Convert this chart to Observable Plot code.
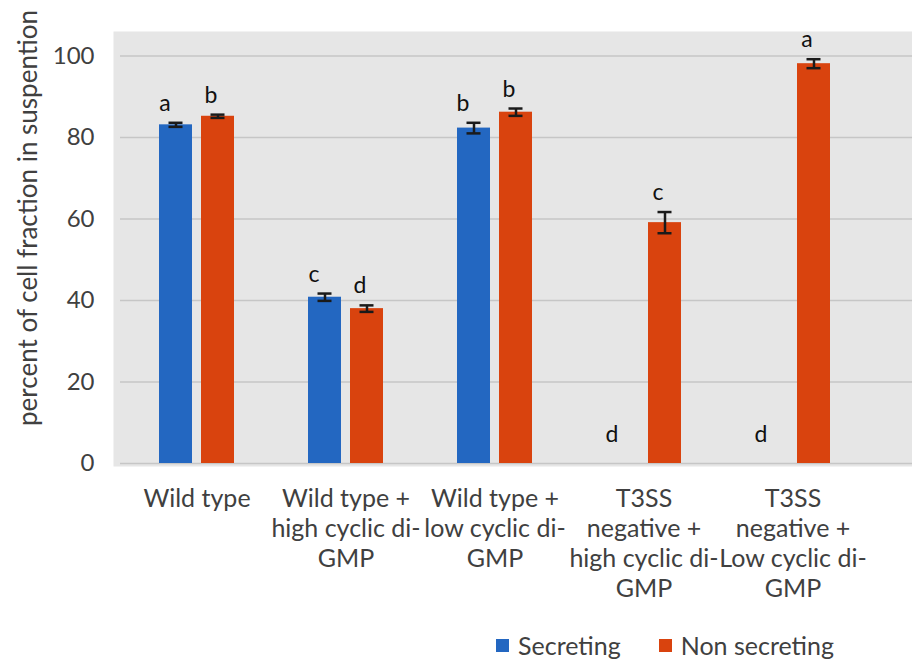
<!DOCTYPE html>
<html>
<head>
<meta charset="utf-8">
<script src="https://cdn.jsdelivr.net/npm/d3@7"></script>
<script src="https://cdn.jsdelivr.net/npm/@observablehq/plot@0.6"></script>
<style>
  body { margin: 0; background: #fff; font-family: Lato, "Liberation Sans", sans-serif; }
  #wrap { position: relative; width: 912px; height: 659px; overflow: hidden; }
  #legend { position: absolute; left: 496px; top: 630px; height: 30px; display: flex; align-items: center; font-size: 25px; color: #404040; font-family: Lato, sans-serif; }
  .item { display: flex; align-items: center; margin-right: 38px; }
  .sw { width: 13px; height: 13px; margin-right: 9px; }
  #ytitle { position: absolute; left: 27px; top: 218px; transform: translate(-50%, -50%) rotate(-90deg); white-space: nowrap; font-size: 26px; line-height: 30px; color: #404040; font-family: Lato, sans-serif; }
</style>
</head>
<body>
<div id="wrap"><div id="chart"></div><div id="ytitle"></div><div id="legend"></div></div>
<script>
const categories = [
  "Wild type",
  "Wild type +\nhigh cyclic di-\nGMP",
  "Wild type +\nlow cyclic di-\nGMP",
  "T3SS\nnegative +\nhigh cyclic di-\nGMP",
  "T3SS\nnegative +\nLow cyclic di-\nGMP"
];
const seriesNames = ["Secreting", "Non secreting"];
const yTitle = "percent of cell fraction in suspention";
const secreting = [83.1, 40.8, 82.3, 0, 0];
const secretingErr = [0.5, 0.9, 1.3, 0, 0];
const nonSecreting = [85.2, 38.0, 86.2, 59.1, 98.1];
const nonSecretingErr = [0.4, 0.8, 0.9, 2.6, 1.1];
const secretingLetters = ["a", "c", "b", "d", "d"];
const nonSecretingLetters = ["b", "d", "b", "c", "a"];
const yTicks = [0, 20, 40, 60, 80, 100];
const colors = ["#2367c1", "#d9430e"];

const sec = categories.map((c, i) => ({category: c, value: secreting[i], err: secretingErr[i], letter: secretingLetters[i]}));
const non = categories.map((c, i) => ({category: c, value: nonSecreting[i], err: nonSecretingErr[i], letter: nonSecretingLetters[i]}));

const errMarks = (rows, dx) => {
  const r = rows.filter(d => d.err > 0);
  return [
    Plot.ruleX(r, {x: "category", y1: d => d.value - d.err, y2: d => d.value + d.err, dx, stroke: "#1a1a1a", strokeWidth: 2.5}),
    Plot.tickY(r, {x: "category", y: d => d.value + d.err, dx, insetLeft: 30.5, insetRight: 30.5, stroke: "#1a1a1a", strokeWidth: 2.5}),
    Plot.tickY(r, {x: "category", y: d => d.value - d.err, dx, insetLeft: 30.5, insetRight: 30.5, stroke: "#1a1a1a", strokeWidth: 2.5})
  ];
};

const chart = Plot.plot({
  width: 912,
  height: 620,
  marginLeft: 113,
  marginRight: 0,
  marginTop: 31,
  marginBottom: 154,
  style: {fontFamily: "Lato, sans-serif", color: "#404040", background: "white", overflow: "visible"},
  x: {domain: categories, range: [120, 868], paddingInner: 0.5, paddingOuter: 0.25, label: null},
  y: {domain: [0, 106], range: [463, 31], label: null},
  marks: [
    Plot.frame({fill: "#e6e6e6", stroke: null}),
    Plot.ruleY(yTicks, {stroke: "#c6c6c6", strokeWidth: 1.5, insetLeft: 7}),
    Plot.barY(sec, {x: "category", y: "value", fill: colors[0], insetRight: 42}),
    Plot.barY(non, {x: "category", y: "value", fill: colors[1], insetLeft: 42}),
    ...errMarks(sec, -21),
    ...errMarks(non, 21),
    Plot.text(sec, {x: "category", y: d => Math.max(d.value + d.err, 2.3), text: "letter", dx: -32, dy: -12, lineAnchor: "bottom", fontSize: 23, fill: "#111"}),
    Plot.text(non, {x: "category", y: d => Math.max(d.value + d.err, 2.3), text: "letter", dx: 14, dy: -12, lineAnchor: "bottom", fontSize: 23, fill: "#111"}),
    Plot.axisY(yTicks, {tickSize: 0, tickPadding: 19, fontSize: 24, label: null}),
    Plot.axisX({tickSize: 0, tickPadding: 19, fontSize: 25, lineHeight: 1.2, label: null})
  ]
});
document.getElementById("chart").appendChild(chart);
document.getElementById("ytitle").textContent = yTitle;

const legend = document.getElementById("legend");
seriesNames.forEach((s, i) => {
  const item = document.createElement("div");
  item.className = "item";
  const sw = document.createElement("div");
  sw.className = "sw";
  sw.style.background = colors[i];
  const t = document.createElement("span");
  t.textContent = s;
  item.appendChild(sw);
  item.appendChild(t);
  legend.appendChild(item);
});
</script>
</body>
</html>
